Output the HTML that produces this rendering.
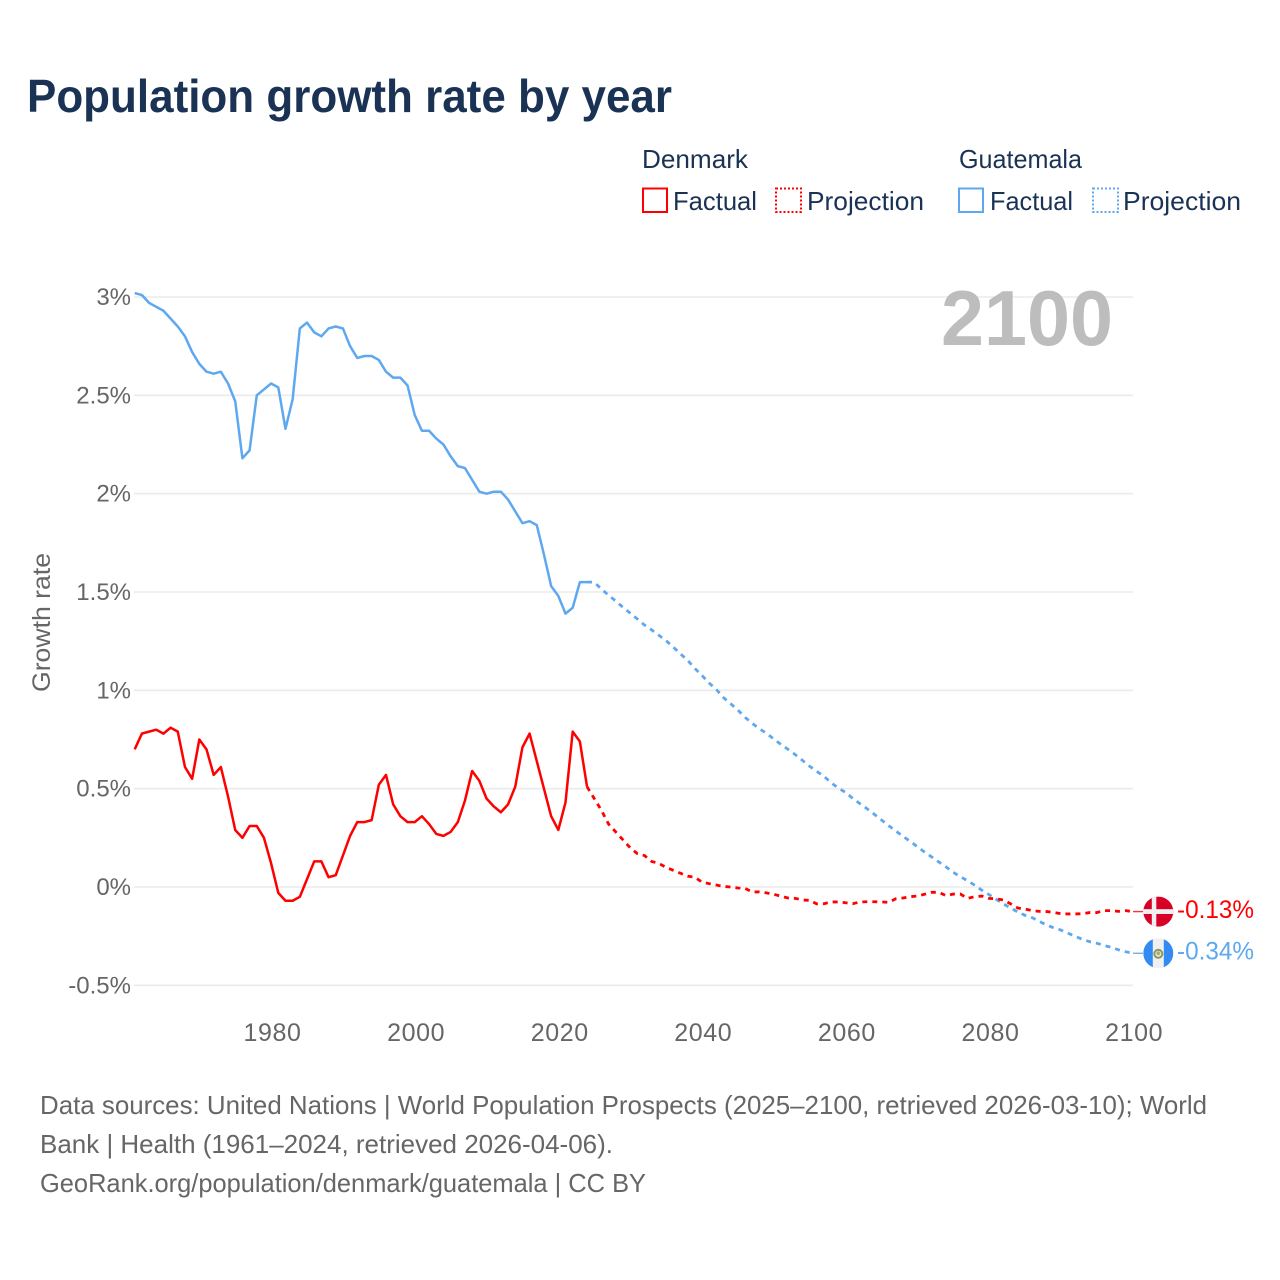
<!DOCTYPE html>
<html lang="en">
<head>
<meta charset="utf-8">
<title>Population growth rate by year</title>
<style>
  html,body{margin:0;padding:0;background:#fff;}
  svg{display:block;font-family:"Liberation Sans",sans-serif;}
</style>
</head>
<body>
<svg id="chart" width="1280" height="1280" viewBox="0 0 1280 1280" xmlns="http://www.w3.org/2000/svg">
  <rect x="0" y="0" width="1280" height="1280" fill="#ffffff"/>
  <text x="27" y="112" font-size="46" font-weight="700" fill="#1a3354" textLength="645" lengthAdjust="spacingAndGlyphs">Population growth rate by year</text>

  <g fill="#1a3354" font-size="26">
    <text x="642" y="168" textLength="106" lengthAdjust="spacingAndGlyphs">Denmark</text>
    <text x="959" y="168" textLength="123" lengthAdjust="spacingAndGlyphs">Guatemala</text>
    <rect x="643" y="188.5" width="24" height="23.5" fill="none" stroke="#ff0000" stroke-width="2"/>
    <text x="673" y="210" textLength="84" lengthAdjust="spacingAndGlyphs">Factual</text>
    <rect x="776" y="188.5" width="25" height="23.5" fill="none" stroke="#ff0000" stroke-width="2" stroke-dasharray="2,2"/>
    <text x="807" y="210" textLength="117" lengthAdjust="spacingAndGlyphs">Projection</text>
    <rect x="959" y="188.5" width="24" height="23.5" fill="none" stroke="#5ea8f0" stroke-width="2"/>
    <text x="990" y="210" textLength="83" lengthAdjust="spacingAndGlyphs">Factual</text>
    <rect x="1093" y="188.5" width="25" height="23.5" fill="none" stroke="#5ea8f0" stroke-width="2" stroke-dasharray="2,2"/>
    <text x="1123" y="210" textLength="118" lengthAdjust="spacingAndGlyphs">Projection</text>
  </g>

  <g id="grid"></g>
  <g id="y-ticks"></g>
  <g id="x-ticks"></g>
  <text transform="translate(50 622.5) rotate(-90)" text-anchor="middle" font-size="25" fill="#666666" textLength="139" lengthAdjust="spacingAndGlyphs">Growth rate</text>
  <text x="941" y="345" font-size="78" font-weight="700" fill="#bdbdbd" textLength="172" lengthAdjust="spacingAndGlyphs">2100</text>

  <g id="series"></g>
  <g id="end-markers"></g>

  <defs>
    <clipPath id="flag-clip"><circle cx="0" cy="0" r="15"/></clipPath>
  </defs>

  <g font-size="26" fill="#666666">
    <text x="40" y="1114" textLength="1167" lengthAdjust="spacingAndGlyphs">Data sources: United Nations | World Population Prospects (2025–2100, retrieved 2026-03-10); World</text>
    <text x="40" y="1153" textLength="573" lengthAdjust="spacingAndGlyphs">Bank | Health (1961–2024, retrieved 2026-04-06).</text>
    <text x="40" y="1192" textLength="606" lengthAdjust="spacingAndGlyphs">GeoRank.org/population/denmark/guatemala | CC BY</text>
  </g>
</svg>
<script>
const factualYears = [1961,1962,1963,1964,1965,1966,1967,1968,1969,1970,
  1971,1972,1973,1974,1975,1976,1977,1978,1979,1980,
  1981,1982,1983,1984,1985,1986,1987,1988,1989,1990,
  1991,1992,1993,1994,1995,1996,1997,1998,1999,2000,
  2001,2002,2003,2004,2005,2006,2007,2008,2009,2010,
  2011,2012,2013,2014,2015,2016,2017,2018,2019,2020,
  2021,2022,2023,2024];
const projectionYears = [2024,2025,2026,2027,2028,2029,
  2030,2031,2032,2033,2034,2035,2036,2037,2038,2039,
  2040,2041,2042,2043,2044,2045,2046,2047,2048,2049,
  2050,2051,2052,2053,2054,2055,2056,2057,2058,2059,
  2060,2061,2062,2063,2064,2065,2066,2067,2068,2069,
  2070,2071,2072,2073,2074,2075,2076,2077,2078,2079,
  2080,2081,2082,2083,2084,2085,2086,2087,2088,2089,
  2090,2091,2092,2093,2094,2095,2096,2097,2098,2099,2100];
const denmarkFactual = [0.70,0.78,0.79,0.80,0.78,0.81,0.79,0.61,0.55,0.75,
  0.70,0.57,0.61,0.46,0.29,0.25,0.31,0.31,0.25,0.12,
  -0.03,-0.07,-0.07,-0.05,0.04,0.13,0.13,0.05,0.06,0.16,
  0.26,0.33,0.33,0.34,0.52,0.57,0.42,0.36,0.33,0.33,
  0.36,0.32,0.27,0.26,0.28,0.33,0.44,0.59,0.54,0.45,
  0.41,0.38,0.42,0.51,0.71,0.78,0.64,0.50,0.36,0.29,
  0.43,0.79,0.74,0.51];
const guatemalaFactual = [3.02,3.01,2.97,2.95,2.93,2.89,2.85,2.80,2.72,2.66,
  2.62,2.61,2.62,2.56,2.47,2.18,2.22,2.50,2.53,2.56,
  2.54,2.33,2.48,2.84,2.87,2.82,2.80,2.84,2.85,2.84,
  2.75,2.69,2.70,2.70,2.68,2.62,2.59,2.59,2.55,2.40,
  2.32,2.32,2.28,2.25,2.19,2.14,2.13,2.07,2.01,2.00,
  2.01,2.01,1.97,1.91,1.85,1.86,1.84,1.69,1.53,1.48,
  1.39,1.42,1.55,1.55];
const denmarkProjection = [0.51,0.45,0.39,0.32,0.28,0.24,
  0.20,0.17,0.16,0.13,0.12,0.10,0.085,0.07,0.055,0.05,
  0.025,0.017,0.01,0.003,0,-0.005,-0.007,-0.025,-0.025,-0.03,
  -0.037,-0.047,-0.056,-0.058,-0.066,-0.068,-0.086,-0.085,-0.076,-0.076,
  -0.08,-0.085,-0.076,-0.075,-0.075,-0.076,-0.078,-0.06,-0.056,-0.049,
  -0.046,-0.037,-0.027,-0.027,-0.044,-0.036,-0.036,-0.058,-0.049,-0.046,
  -0.058,-0.06,-0.066,-0.086,-0.107,-0.112,-0.12,-0.124,-0.125,-0.129,
  -0.136,-0.137,-0.137,-0.136,-0.13,-0.13,-0.12,-0.12,-0.124,-0.12,-0.125];
const guatemalaProjection = [1.55,1.55,1.515,1.483,1.454,1.422,
  1.393,1.363,1.332,1.307,1.28,1.253,1.22,1.186,1.153,1.112,
  1.076,1.037,1.005,0.963,0.932,0.90,0.863,0.832,0.805,0.781,
  0.753,0.725,0.70,0.673,0.644,0.614,0.588,0.563,0.53,0.503,
  0.481,0.451,0.424,0.398,0.37,0.341,0.312,0.285,0.258,0.232,
  0.205,0.178,0.153,0.127,0.102,0.075,0.052,0.032,0.009,-0.017,
  -0.039,-0.063,-0.086,-0.107,-0.127,-0.144,-0.156,-0.175,-0.193,-0.208,
  -0.219,-0.235,-0.251,-0.266,-0.278,-0.286,-0.297,-0.307,-0.319,-0.329,-0.337];
const yTickValues = [-0.5,0,0.5,1,1.5,2,2.5,3];
const yTickLabels = ["-0.5%","0%","0.5%","1%","1.5%","2%","2.5%","3%"];
const xTickValues = [1980,2000,2020,2040,2060,2080,2100];
const xTickLabels = ["1980","2000","2020","2040","2060","2080","2100"];
const endLabels = ["-0.13%","-0.34%"];

const NS = "http://www.w3.org/2000/svg";
const RED = "#ff0000";
const BLUE = "#5ea8f0";
function xScale(year){ return 134.7 + (year - 1961) * 7.18; }
function yScale(v){ return 887 - v * 196.67; }
function make(tag, attrs, parent){
  const el = document.createElementNS(NS, tag);
  for (const k in attrs) el.setAttribute(k, attrs[k]);
  parent.appendChild(el);
  return el;
}
function linePath(years, values){
  return values.map(function(v, i){
    return (i ? "L" : "M") + xScale(years[i]).toFixed(2) + " " + yScale(v).toFixed(2);
  }).join(" ");
}

const gridGroup = document.getElementById("grid");
const yGroup = document.getElementById("y-ticks");
yTickValues.forEach(function(v, i){
  const line = make("line", {x1: 134, x2: 1133, y1: yScale(v), y2: yScale(v), stroke: "#ebebeb", "stroke-width": 1.6}, gridGroup);
  
  
  const t = make("text", {x: 131, y: yScale(v) + 8, "text-anchor": "end", "font-size": 24, fill: "#666666"}, yGroup);
  
  
  t.textContent = yTickLabels[i];
});

const xGroup = document.getElementById("x-ticks");
xTickValues.forEach(function(year, i){
  const t = make("text", {x: xScale(year) + 1.4, y: 1041, "text-anchor": "middle", "font-size": 25, "letter-spacing": 0.6, fill: "#666666"}, xGroup);
  
  
  t.textContent = xTickLabels[i];
});

const seriesGroup = document.getElementById("series");
const denmarkFactualLine = make("path", {d: linePath(factualYears, denmarkFactual), fill: "none", stroke: RED, "stroke-width": 2.5, "stroke-linejoin": "round"}, seriesGroup);


const guatemalaFactualLine = make("path", {d: linePath(factualYears, guatemalaFactual), fill: "none", stroke: BLUE, "stroke-width": 2.5, "stroke-linejoin": "round"}, seriesGroup);


const guatemalaProjectionLine = make("path", {d: linePath(projectionYears, guatemalaProjection), fill: "none", stroke: BLUE, "stroke-width": 2.8, "stroke-dasharray": "5,5"}, seriesGroup);


const denmarkProjectionLine = make("path", {d: linePath(projectionYears, denmarkProjection), fill: "none", stroke: RED, "stroke-width": 2.8, "stroke-dasharray": "5,5"}, seriesGroup);



const markers = document.getElementById("end-markers");
const denmarkEndY = yScale(denmarkProjection[denmarkProjection.length - 1]);
const guatemalaEndY = yScale(guatemalaProjection[guatemalaProjection.length - 1]);

const denmarkConnector = make("line", {x1: 1133, x2: 1143, y1: denmarkEndY, y2: denmarkEndY, stroke: RED, "stroke-width": 1.4, opacity: 0.8}, markers);


const guatemalaConnector = make("line", {x1: 1133, x2: 1143, y1: guatemalaEndY, y2: guatemalaEndY, stroke: BLUE, "stroke-width": 1.4, opacity: 0.9}, markers);



const denmarkFlag = make("g", {transform: "translate(1158.3 " + denmarkEndY + ")", "clip-path": "url(#flag-clip)"}, markers);


make("rect", {x: -15, y: -15, width: 30, height: 30, fill: "#d80027"}, denmarkFlag);
make("rect", {x: -6.5, y: -15, width: 4.5, height: 30, fill: "#f0f0f0"}, denmarkFlag);
make("rect", {x: -15, y: -2.4, width: 30, height: 4.8, fill: "#f0f0f0"}, denmarkFlag);

const guatemalaFlag = make("g", {transform: "translate(1158.3 " + guatemalaEndY + ")", "clip-path": "url(#flag-clip)"}, markers);


make("rect", {x: -15, y: -15, width: 30, height: 30, fill: "#f0f0f0"}, guatemalaFlag);
make("rect", {x: -15, y: -15, width: 9.5, height: 30, fill: "#338af3"}, guatemalaFlag);
make("rect", {x: 5.5, y: -15, width: 9.5, height: 30, fill: "#338af3"}, guatemalaFlag);
make("circle", {cx: 0, cy: 0.5, r: 4, fill: "none", stroke: "#8a9a5b", "stroke-width": 2}, guatemalaFlag);
make("circle", {cx: 0, cy: 0, r: 2, fill: "#b9a96a"}, guatemalaFlag);

const denmarkEndLabel = make("text", {x: 1177, y: denmarkEndY + 6.5, "font-size": 25, fill: RED, textLength: 77, lengthAdjust: "spacingAndGlyphs"}, markers);


denmarkEndLabel.textContent = endLabels[0];
const guatemalaEndLabel = make("text", {x: 1177, y: guatemalaEndY + 6, "font-size": 25, fill: BLUE, textLength: 77, lengthAdjust: "spacingAndGlyphs"}, markers);


guatemalaEndLabel.textContent = endLabels[1];
</script>
</body>
</html>
